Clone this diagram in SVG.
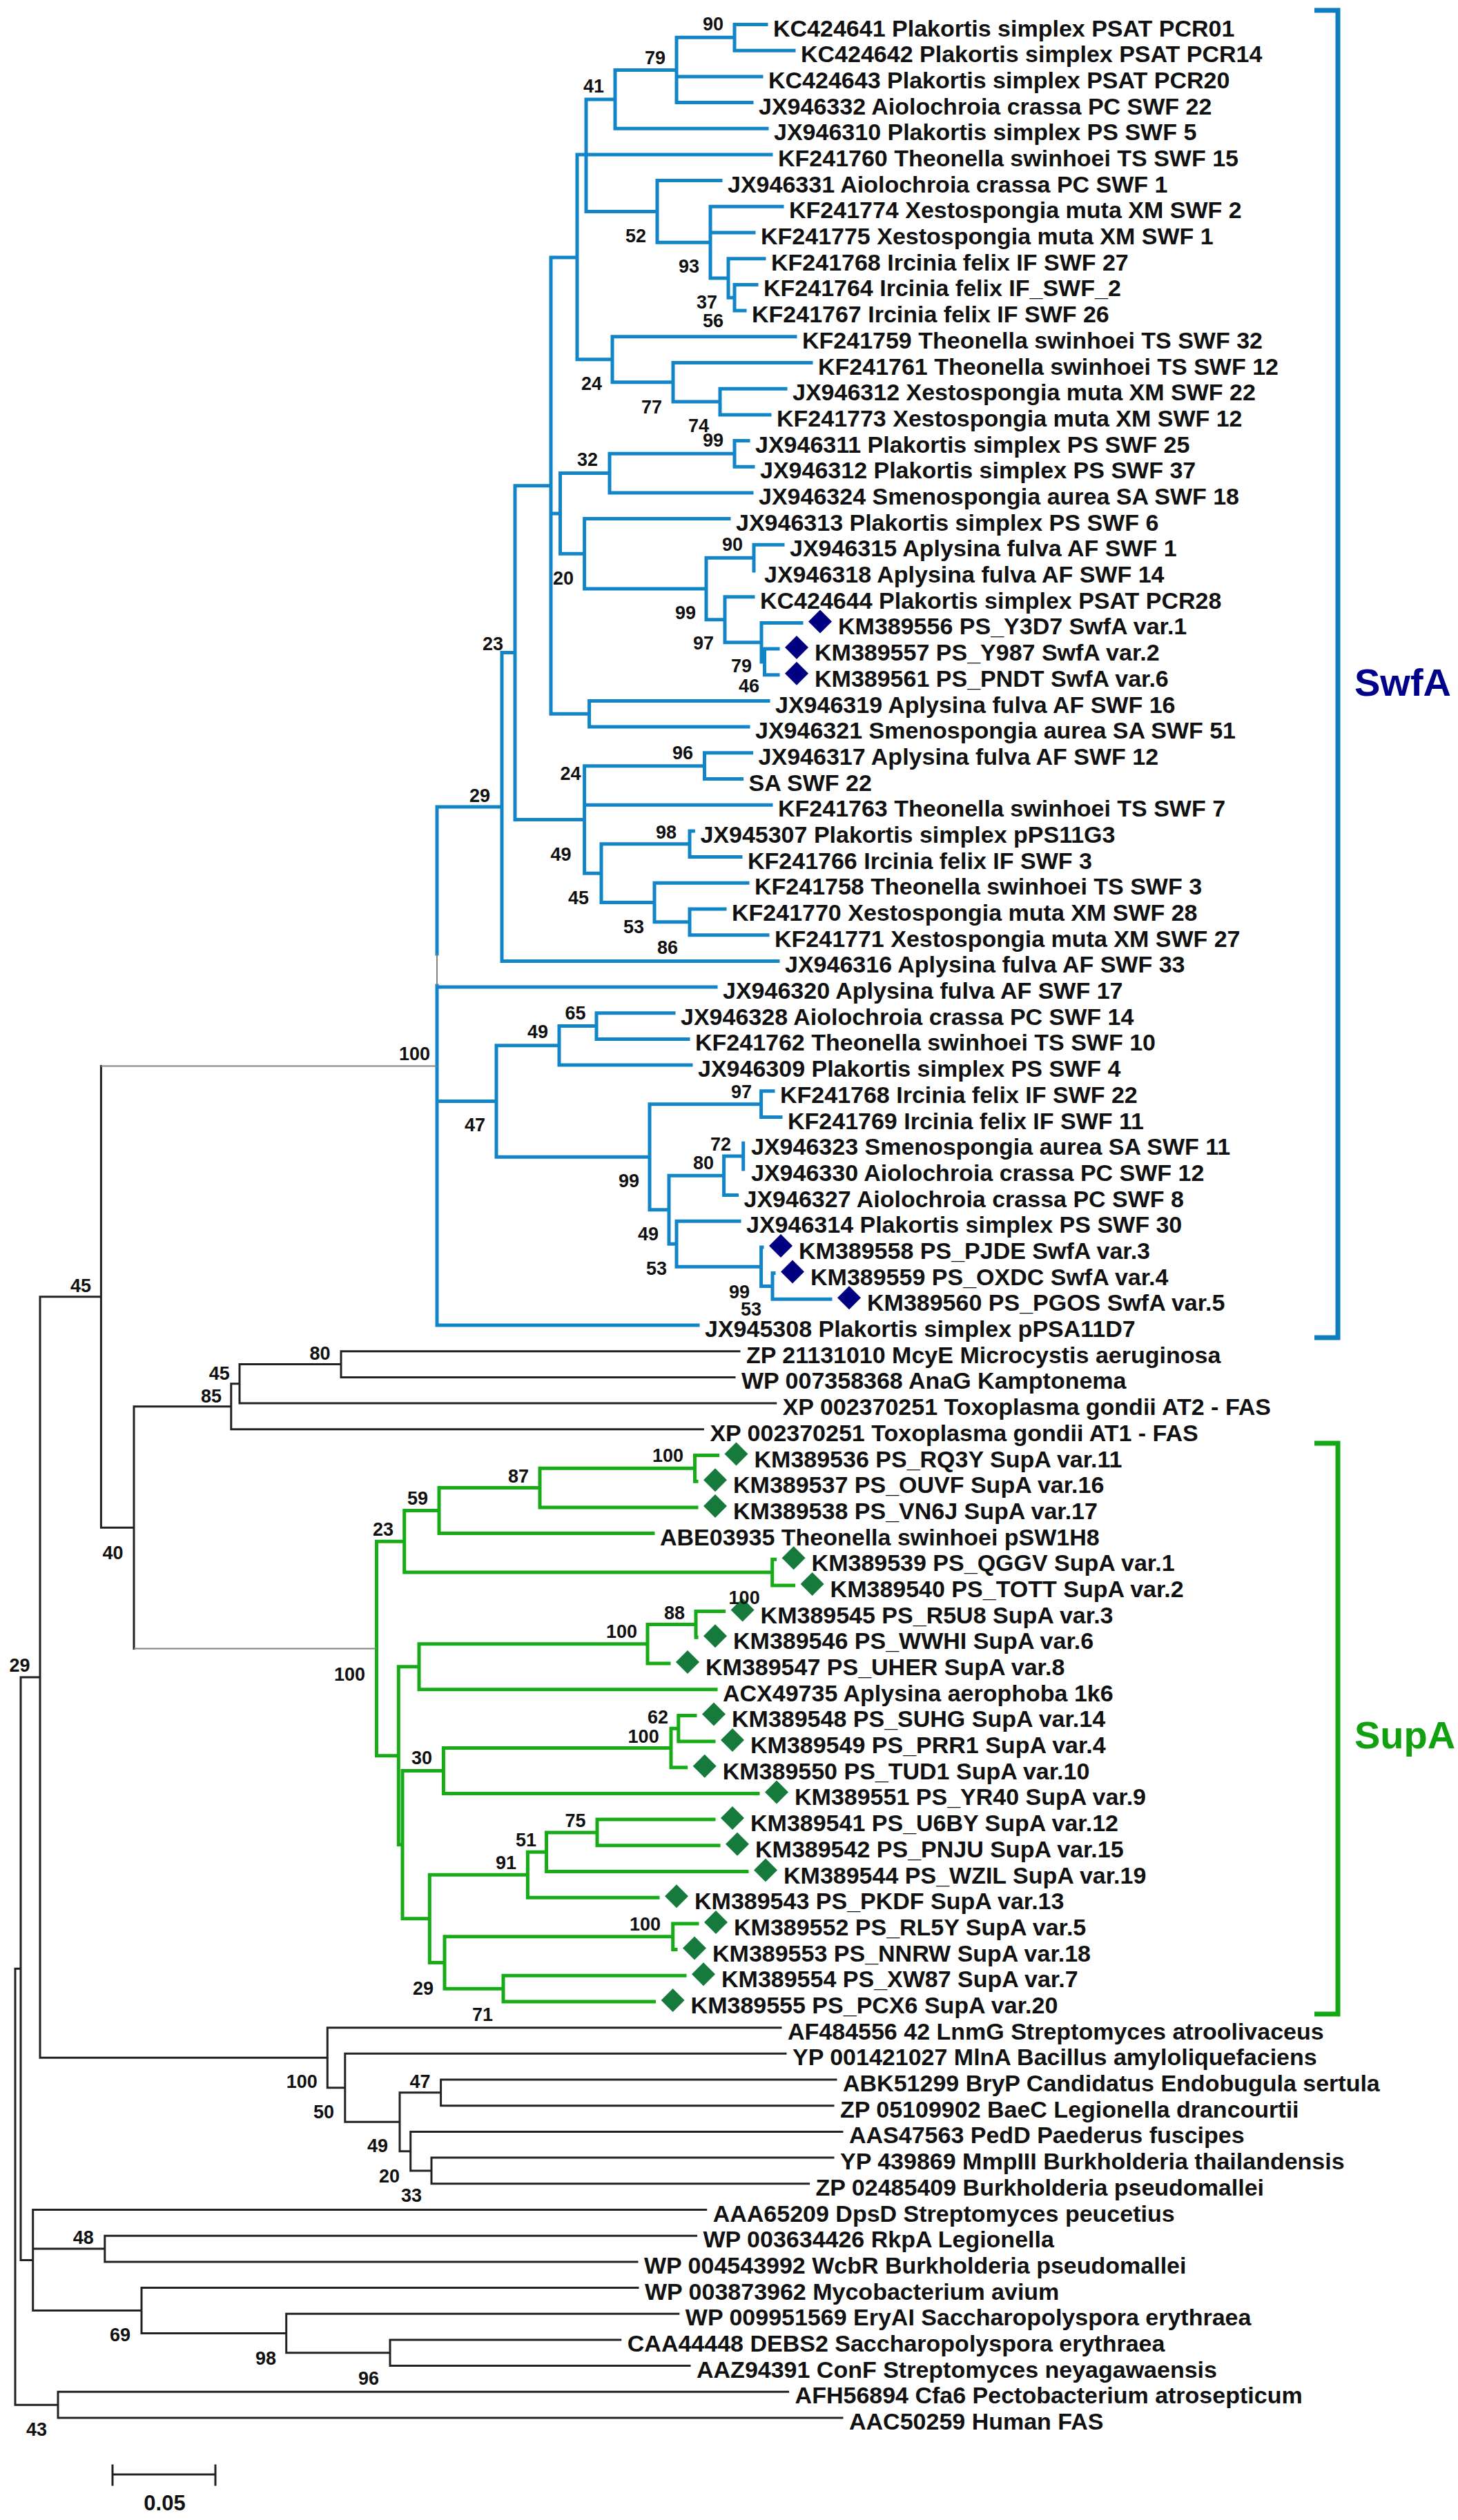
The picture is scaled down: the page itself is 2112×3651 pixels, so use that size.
<svg xmlns="http://www.w3.org/2000/svg" width="2112" height="3651" viewBox="0 0 2112 3651">
<style>
.lf{font-family:"Liberation Sans",Arial,sans-serif;font-weight:bold;font-size:34px;fill:#111}
.bs{font-family:"Liberation Sans",Arial,sans-serif;font-weight:bold;font-size:27px;fill:#111}
.cl{font-family:"Liberation Sans",Arial,sans-serif;font-weight:bold;font-size:56px}
.bl{fill:none;stroke:#1285c8;stroke-width:5;stroke-linecap:square}
.gr{fill:none;stroke:#17ab17;stroke-width:5;stroke-linecap:square}
.bk{fill:none;stroke:#222;stroke-width:3;stroke-linecap:square}
.gy{fill:none;stroke:#808080;stroke-width:2}
.db{fill:#000080}
.dg{fill:#157a3c}
</style>
<defs>
<path id="dm" d="M0,-17L17,0L0,17L-17,0Z"/>
</defs>
<rect width="2112" height="3651" fill="#fff"/>
<g id="connectors">
<path class="bl" d="M633 1169V1382M633 1428V1920M727 945.5V1392.4M746 703.65V1187.4M798 373V1034.3M836 224V520.8M849 143.9V306.4M891 101.5V186.3M980 54.35V148.6M1064 35.5V73.2M952 261.6V351.15M1029 299.3V403M1055 374.7V431.25M1064 412.4V450.1M887 487.8V553.8M975 525.5V582.05M1043 563.2V600.9M811.5 685.6V802.25M883 657.35V713.9M1064 638.5V676.2M846.6 751.6V852.9M1023 808.15V897.7M1092 789.3V827M1050 864.7V930.7M1103 902.4V958.95M1107.5 940.1V977.8M853.6 1015.5V1053.1M846.6 1109.65V1265.2M1020.5 1090.8V1128.5M871 1222.75V1307.6M999 1203.9V1241.6M948 1279.3V1335.85M999 1317V1354.7M719 1514.8V1676.2M810 1486.55V1543.1M864 1467.7V1505.4M941 1599.65V1752.8M1102.6 1580.8V1618.5M969 1703.3V1802.25M1048.6 1675.05V1731.6M1076.7 1656.2V1693.9M980 1769.3V1835.2M1102.6 1806.9V1863.45M1119 1844.6V1882.3
M633 1168.95H727M727 945.5H746M746 703.65H798M798 373H836M836 224H1117M849 143.9H891M891 101.5H980M980 54.35H1064M1064 35.5H1110M1064 73.2H1150M980 110.9H1103M980 148.6H1089M891 186.3H1111M849 306.4H952M952 261.6H1044M952 351.15H1029M1029 299.3H1133M1029 337H1092M1029 403H1055M1055 374.7H1107M1055 431.25H1064M1064 412.4H1096M1064 450.1H1079M836 520.8H887M887 487.8H1152M887 553.8H975M975 525.5H1175M975 582.05H1043M1043 563.2H1138M1043 600.9H1115M798 743.9H811.5M811.5 685.6H883M883 657.35H1064M1064 638.5H1084M1064 676.2H1091M883 713.9H1089M811.5 802.25H846.6M846.6 751.6H1056M846.6 852.9H1023M1023 808.15H1092M1092 789.3H1134M1023 897.7H1050M1050 864.7H1091M1050 930.7H1103M1103 902.4H1161M1103 958.95H1107.5M1107.5 940.1H1127M1107.5 977.8H1127M798 1034.3H853.6M853.6 1015.5H1113M853.6 1053.1H1084M746 1187.4H846.6M846.6 1109.65H1020.5M1020.5 1090.8H1088.6M1020.5 1128.5H1074.6M846.6 1166.2H1117M846.6 1265.2H871M871 1222.75H999M999 1203.9H1004.4M999 1241.6H1073M871 1307.6H948M948 1279.3H1083M948 1335.85H999M999 1317H1050M999 1354.7H1112M727 1392.4H1127M633 1430H1037M633 1595.5H719M719 1514.8H810M810 1486.55H864M864 1467.7H976M864 1505.4H997M810 1543.1H1001M719 1676.2H941M941 1599.65H1102.6M1102.6 1580.8H1120M1102.6 1618.5H1131M941 1752.8H969M969 1703.3H1048.6M1048.6 1675.05H1076.7M1048.6 1731.6H1067.5M969 1802.25H980M980 1769.3H1071M980 1835.2H1102.6M1102.6 1806.9H1104M1102.6 1863.45H1119M1119 1844.6H1121M1119 1882.3H1203M633 1920H1011"/>
<path class="gr" d="M545.5 2233.3V2543.65M585.7 2188.55V2278.05M636 2155.6V2221.5M782 2127.35V2183.9M1006.5 2108.5V2146.2M1118.7 2259.2V2296.9M577.3 2414.7V2672.6M607 2381.7V2447.7M938 2353.45V2410M1008 2334.6V2372.3M583 2565.45V2779.8M642.4 2532.5V2598.4M972 2504.25V2560.8M982.8 2485.4V2523.1M622.3 2716.2V2843.45M764.4 2683.2V2749.2M791.5 2654.95V2711.5M865 2636.1V2673.8M644 2805.75V2881.15M974.7 2786.9V2824.6M729 2862.3V2900
M545.5 2233.3H585.7M545.5 2543.65H577.3M585.7 2188.55H636M585.7 2278.05H1118.7M636 2155.6H782M636 2221.5H946M782 2127.35H1006.5M782 2183.9H1009M1006.5 2108.5H1039.5M1006.5 2146.2H1009M1118.7 2259.2H1122.6M1118.7 2296.9H1149.6M577.3 2414.7H607M577.3 2672.6H583M607 2381.7H938M607 2447.7H1037M938 2353.45H1008M938 2410H969M1008 2334.6H1048.6M1008 2372.3H1009M583 2565.45H642.4M583 2779.8H622.3M642.4 2532.5H972M642.4 2598.4H1098M972 2504.25H982.8M972 2560.8H993.7M982.8 2485.4H1007M982.8 2523.1H1034M622.3 2716.2H764.4M622.3 2843.45H644M764.4 2683.2H791.5M764.4 2749.2H953M791.5 2654.95H865M791.5 2711.5H1082M865 2636.1H1034M865 2673.8H1041M644 2805.75H974.7M644 2881.15H729M974.7 2786.9H1010M974.7 2824.6H979M729 2862.3H992M729 2900H947.6"/>
<path class="bk" d="M22 2852.25V3484.15M22 2852.25H30M22 3484.15H84M30 2430V3274.5M30 2430H58M30 3274.5H47.7M58 1878.8V2981.25M58 1878.8H146.4M58 2981.25H474.3M146.4 1544.5V2213.15M146.4 2213.15H194M194 2037.8V2388.5M194 2037.8H334.8M334.8 2004.8V2070.8M334.8 2004.8H347M334.8 2070.8H1018.4M347 1976.55V2033.1M347 1976.55H494M347 2033.1H1123.7M494 1957.7V1995.4M494 1957.7H1071M494 1995.4H1064M474.3 2937.7V3024.8M474.3 2937.7H1131M474.3 3024.8H499.8M499.8 2975.3V3074.3M499.8 2975.3H1138M499.8 3074.3H579M579 3031.85V3116.7M579 3031.85H638.6M579 3116.7H594.7M638.6 3013V3050.7M638.6 3013H1211M638.6 3050.7H1207M594.7 3088.4V3144.95M594.7 3088.4H1220M594.7 3144.95H625M625 3126.1V3163.8M625 3126.1H1207M625 3163.8H1171.6M47.7 3201.5V3347.55M47.7 3201.5H1022.7M47.7 3258.05H151.8M47.7 3347.55H205M151.8 3239.2V3276.9M151.8 3239.2H1008.5M151.8 3276.9H923M205 3314.6V3380.5M205 3314.6H924M205 3380.5H414.7M414.7 3352.2V3408.75M414.7 3352.2H982.8M414.7 3408.75H565M565 3389.9V3427.6M565 3389.9H898.8M565 3427.6H999M84 3465.3V3503M84 3465.3H1141.6M84 3503H1220"/>
<path class="gy" d="M146.4 1544.5H633M194 2388.5H545.5M633 1382V1428"/>
</g>
<g id="brackets">
<path d="M1904 15H1938V1938H1904" fill="none" stroke="#0b7dc0" stroke-width="7"/>
<path d="M1904 2091H1938V2918H1904" fill="none" stroke="#14a814" stroke-width="7"/>
<text id="label-SwfA" class="cl" x="1962" y="1008" fill="#00008b">SwfA</text>
<text id="label-SupA" class="cl" x="1962" y="2533" fill="#10a010">SupA</text>
</g>
<g id="leaves">
<g id="leaf1"><text class="lf" x="1120" y="52.5">KC424641 Plakortis simplex PSAT PCR01</text></g>
<g id="leaf2"><text class="lf" x="1160" y="90.2">KC424642 Plakortis simplex PSAT PCR14</text></g>
<g id="leaf3"><text class="lf" x="1113" y="127.9">KC424643 Plakortis simplex PSAT PCR20</text></g>
<g id="leaf4"><text class="lf" x="1099" y="165.6">JX946332 Aiolochroia crassa PC SWF 22</text></g>
<g id="leaf5"><text class="lf" x="1121" y="203.3">JX946310 Plakortis simplex PS SWF 5</text></g>
<g id="leaf6"><text class="lf" x="1127" y="241">KF241760 Theonella swinhoei TS SWF 15</text></g>
<g id="leaf7"><text class="lf" x="1054" y="278.6">JX946331 Aiolochroia crassa PC SWF 1</text></g>
<g id="leaf8"><text class="lf" x="1143" y="316.3">KF241774 Xestospongia muta XM SWF 2</text></g>
<g id="leaf9"><text class="lf" x="1102" y="354">KF241775 Xestospongia muta XM SWF 1</text></g>
<g id="leaf10"><text class="lf" x="1117" y="391.7">KF241768 Ircinia felix IF SWF 27</text></g>
<g id="leaf11"><text class="lf" x="1106" y="429.4">KF241764 Ircinia felix IF_SWF_2</text></g>
<g id="leaf12"><text class="lf" x="1089" y="467.1">KF241767 Ircinia felix IF SWF 26</text></g>
<g id="leaf13"><text class="lf" x="1162" y="504.8">KF241759 Theonella swinhoei TS SWF 32</text></g>
<g id="leaf14"><text class="lf" x="1185" y="542.5">KF241761 Theonella swinhoei TS SWF 12</text></g>
<g id="leaf15"><text class="lf" x="1148" y="580.2">JX946312 Xestospongia muta XM SWF 22</text></g>
<g id="leaf16"><text class="lf" x="1125" y="617.9">KF241773 Xestospongia muta XM SWF 12</text></g>
<g id="leaf17"><text class="lf" x="1094" y="655.5">JX946311 Plakortis simplex PS SWF 25</text></g>
<g id="leaf18"><text class="lf" x="1101" y="693.2">JX946312 Plakortis simplex PS SWF 37</text></g>
<g id="leaf19"><text class="lf" x="1099" y="730.9">JX946324 Smenospongia aurea SA SWF 18</text></g>
<g id="leaf20"><text class="lf" x="1066" y="768.6">JX946313 Plakortis simplex PS SWF 6</text></g>
<g id="leaf21"><text class="lf" x="1144" y="806.3">JX946315 Aplysina fulva AF SWF 1</text></g>
<g id="leaf22"><text class="lf" x="1107" y="844">JX946318 Aplysina fulva AF SWF 14</text></g>
<g id="leaf23"><text class="lf" x="1101" y="881.7">KC424644 Plakortis simplex PSAT PCR28</text></g>
<g id="leaf24"><use href="#dm" class="db" x="1188" y="900.4"/><text class="lf" x="1214" y="919.4">KM389556 PS_Y3D7 SwfA var.1</text></g>
<g id="leaf25"><use href="#dm" class="db" x="1154" y="938.1"/><text class="lf" x="1180" y="957.1">KM389557 PS_Y987 SwfA var.2</text></g>
<g id="leaf26"><use href="#dm" class="db" x="1154" y="975.8"/><text class="lf" x="1180" y="994.8">KM389561 PS_PNDT SwfA var.6</text></g>
<g id="leaf27"><text class="lf" x="1123" y="1032.5">JX946319 Aplysina fulva AF SWF 16</text></g>
<g id="leaf28"><text class="lf" x="1094" y="1070.1">JX946321 Smenospongia aurea SA SWF 51</text></g>
<g id="leaf29"><text class="lf" x="1098.6" y="1107.8">JX946317 Aplysina fulva AF SWF 12</text></g>
<g id="leaf30"><text class="lf" x="1084.6" y="1145.5">SA SWF 22</text></g>
<g id="leaf31"><text class="lf" x="1127" y="1183.2">KF241763 Theonella swinhoei TS SWF 7</text></g>
<g id="leaf32"><text class="lf" x="1014.4" y="1220.9">JX945307 Plakortis simplex pPS11G3</text></g>
<g id="leaf33"><text class="lf" x="1083" y="1258.6">KF241766 Ircinia felix IF SWF 3</text></g>
<g id="leaf34"><text class="lf" x="1093" y="1296.3">KF241758 Theonella swinhoei TS SWF 3</text></g>
<g id="leaf35"><text class="lf" x="1060" y="1334">KF241770 Xestospongia muta XM SWF 28</text></g>
<g id="leaf36"><text class="lf" x="1122" y="1371.7">KF241771 Xestospongia muta XM SWF 27</text></g>
<g id="leaf37"><text class="lf" x="1137" y="1409.4">JX946316 Aplysina fulva AF SWF 33</text></g>
<g id="leaf38"><text class="lf" x="1047" y="1447">JX946320 Aplysina fulva AF SWF 17</text></g>
<g id="leaf39"><text class="lf" x="986" y="1484.7">JX946328 Aiolochroia crassa PC SWF 14</text></g>
<g id="leaf40"><text class="lf" x="1007" y="1522.4">KF241762 Theonella swinhoei TS SWF 10</text></g>
<g id="leaf41"><text class="lf" x="1011" y="1560.1">JX946309 Plakortis simplex PS SWF 4</text></g>
<g id="leaf42"><text class="lf" x="1130" y="1597.8">KF241768 Ircinia felix IF SWF 22</text></g>
<g id="leaf43"><text class="lf" x="1141" y="1635.5">KF241769 Ircinia felix IF SWF 11</text></g>
<g id="leaf44"><text class="lf" x="1088" y="1673.2">JX946323 Smenospongia aurea SA SWF 11</text></g>
<g id="leaf45"><text class="lf" x="1088" y="1710.9">JX946330 Aiolochroia crassa PC SWF 12</text></g>
<g id="leaf46"><text class="lf" x="1077.5" y="1748.6">JX946327 Aiolochroia crassa PC SWF 8</text></g>
<g id="leaf47"><text class="lf" x="1081" y="1786.3">JX946314 Plakortis simplex PS SWF 30</text></g>
<g id="leaf48"><use href="#dm" class="db" x="1131" y="1804.9"/><text class="lf" x="1157" y="1823.9">KM389558 PS_PJDE SwfA var.3</text></g>
<g id="leaf49"><use href="#dm" class="db" x="1148" y="1842.6"/><text class="lf" x="1174" y="1861.6">KM389559 PS_OXDC SwfA var.4</text></g>
<g id="leaf50"><use href="#dm" class="db" x="1230" y="1880.3"/><text class="lf" x="1256" y="1899.3">KM389560 PS_PGOS SwfA var.5</text></g>
<g id="leaf51"><text class="lf" x="1021" y="1937">JX945308 Plakortis simplex pPSA11D7</text></g>
<g id="leaf52"><text class="lf" x="1081" y="1974.7">ZP 21131010 McyE Microcystis aeruginosa</text></g>
<g id="leaf53"><text class="lf" x="1074" y="2012.4">WP 007358368 AnaG Kamptonema</text></g>
<g id="leaf54"><text class="lf" x="1133.7" y="2050.1">XP 002370251 Toxoplasma gondii AT2 - FAS</text></g>
<g id="leaf55"><text class="lf" x="1028.4" y="2087.8">XP 002370251 Toxoplasma gondii AT1 - FAS</text></g>
<g id="leaf56"><use href="#dm" class="dg" x="1066.5" y="2106.5"/><text class="lf" x="1092.5" y="2125.5">KM389536 PS_RQ3Y SupA var.11</text></g>
<g id="leaf57"><use href="#dm" class="dg" x="1036" y="2144.2"/><text class="lf" x="1062" y="2163.2">KM389537 PS_OUVF SupA var.16</text></g>
<g id="leaf58"><use href="#dm" class="dg" x="1036" y="2181.9"/><text class="lf" x="1062" y="2200.9">KM389538 PS_VN6J SupA var.17</text></g>
<g id="leaf59"><text class="lf" x="956" y="2238.5">ABE03935 Theonella swinhoei pSW1H8</text></g>
<g id="leaf60"><use href="#dm" class="dg" x="1149.6" y="2257.2"/><text class="lf" x="1175.6" y="2276.2">KM389539 PS_QGGV SupA var.1</text></g>
<g id="leaf61"><use href="#dm" class="dg" x="1176.6" y="2294.9"/><text class="lf" x="1202.6" y="2313.9">KM389540 PS_TOTT SupA var.2</text></g>
<g id="leaf62"><use href="#dm" class="dg" x="1075.6" y="2332.6"/><text class="lf" x="1101.6" y="2351.6">KM389545 PS_R5U8 SupA var.3</text></g>
<g id="leaf63"><use href="#dm" class="dg" x="1036" y="2370.3"/><text class="lf" x="1062" y="2389.3">KM389546 PS_WWHI SupA var.6</text></g>
<g id="leaf64"><use href="#dm" class="dg" x="996" y="2408"/><text class="lf" x="1022" y="2427">KM389547 PS_UHER SupA var.8</text></g>
<g id="leaf65"><text class="lf" x="1047" y="2464.7">ACX49735 Aplysina aerophoba 1k6</text></g>
<g id="leaf66"><use href="#dm" class="dg" x="1034" y="2483.4"/><text class="lf" x="1060" y="2502.4">KM389548 PS_SUHG SupA var.14</text></g>
<g id="leaf67"><use href="#dm" class="dg" x="1061" y="2521.1"/><text class="lf" x="1087" y="2540.1">KM389549 PS_PRR1 SupA var.4</text></g>
<g id="leaf68"><use href="#dm" class="dg" x="1020.7" y="2558.8"/><text class="lf" x="1046.7" y="2577.8">KM389550 PS_TUD1 SupA var.10</text></g>
<g id="leaf69"><use href="#dm" class="dg" x="1125" y="2596.4"/><text class="lf" x="1151" y="2615.4">KM389551 PS_YR40 SupA var.9</text></g>
<g id="leaf70"><use href="#dm" class="dg" x="1061" y="2634.1"/><text class="lf" x="1087" y="2653.1">KM389541 PS_U6BY SupA var.12</text></g>
<g id="leaf71"><use href="#dm" class="dg" x="1068" y="2671.8"/><text class="lf" x="1094" y="2690.8">KM389542 PS_PNJU SupA var.15</text></g>
<g id="leaf72"><use href="#dm" class="dg" x="1109" y="2709.5"/><text class="lf" x="1135" y="2728.5">KM389544 PS_WZIL SupA var.19</text></g>
<g id="leaf73"><use href="#dm" class="dg" x="980" y="2747.2"/><text class="lf" x="1006" y="2766.2">KM389543 PS_PKDF SupA var.13</text></g>
<g id="leaf74"><use href="#dm" class="dg" x="1037" y="2784.9"/><text class="lf" x="1063" y="2803.9">KM389552 PS_RL5Y SupA var.5</text></g>
<g id="leaf75"><use href="#dm" class="dg" x="1006" y="2822.6"/><text class="lf" x="1032" y="2841.6">KM389553 PS_NNRW SupA var.18</text></g>
<g id="leaf76"><use href="#dm" class="dg" x="1019" y="2860.3"/><text class="lf" x="1045" y="2879.3">KM389554 PS_XW87 SupA var.7</text></g>
<g id="leaf77"><use href="#dm" class="dg" x="974.6" y="2898"/><text class="lf" x="1000.6" y="2917">KM389555 PS_PCX6 SupA var.20</text></g>
<g id="leaf78"><text class="lf" x="1141" y="2954.7">AF484556 42 LnmG Streptomyces atroolivaceus</text></g>
<g id="leaf79"><text class="lf" x="1148" y="2992.3">YP 001421027 MlnA Bacillus amyloliquefaciens</text></g>
<g id="leaf80"><text class="lf" x="1221" y="3030">ABK51299 BryP Candidatus Endobugula sertula</text></g>
<g id="leaf81"><text class="lf" x="1217" y="3067.7">ZP 05109902 BaeC Legionella drancourtii</text></g>
<g id="leaf82"><text class="lf" x="1230" y="3105.4">AAS47563 PedD Paederus fuscipes</text></g>
<g id="leaf83"><text class="lf" x="1217" y="3143.1">YP 439869 MmpIII Burkholderia thailandensis</text></g>
<g id="leaf84"><text class="lf" x="1181.6" y="3180.8">ZP 02485409 Burkholderia pseudomallei</text></g>
<g id="leaf85"><text class="lf" x="1032.7" y="3218.5">AAA65209 DpsD Streptomyces peucetius</text></g>
<g id="leaf86"><text class="lf" x="1018.5" y="3256.2">WP 003634426 RkpA Legionella</text></g>
<g id="leaf87"><text class="lf" x="933" y="3293.9">WP 004543992 WcbR Burkholderia pseudomallei</text></g>
<g id="leaf88"><text class="lf" x="934" y="3331.6">WP 003873962 Mycobacterium avium</text></g>
<g id="leaf89"><text class="lf" x="992.8" y="3369.2">WP 009951569 EryAI Saccharopolyspora erythraea</text></g>
<g id="leaf90"><text class="lf" x="908.8" y="3406.9">CAA44448 DEBS2 Saccharopolyspora erythraea</text></g>
<g id="leaf91"><text class="lf" x="1009" y="3444.6">AAZ94391 ConF Streptomyces neyagawaensis</text></g>
<g id="leaf92"><text class="lf" x="1151.6" y="3482.3">AFH56894 Cfa6 Pectobacterium atrosepticum</text></g>
<g id="leaf93"><text class="lf" x="1230" y="3520">AAC50259 Human FAS</text></g>
</g>
<g id="bootstrap" class="bs">
<text x="1018" y="43.5">90</text><text x="934" y="93">79</text><text x="845" y="134">41</text><text x="906" y="351">52</text><text x="983" y="395">93</text><text x="1009" y="447">37</text><text x="1018" y="474">56</text><text x="842" y="565">24</text><text x="929" y="599">77</text><text x="997" y="626">74</text><text x="1018" y="647">99</text><text x="836" y="675">32</text><text x="1046" y="798">90</text><text x="801" y="847">20</text><text x="978" y="897">99</text><text x="1004" y="941">97</text><text x="1059" y="974">79</text><text x="1070" y="1003">46</text><text x="699" y="942">23</text><text x="974" y="1100">96</text><text x="811.5" y="1130">24</text><text x="680" y="1162">29</text><text x="950" y="1215">98</text><text x="797.5" y="1247">49</text><text x="823" y="1310">45</text><text x="903" y="1352">53</text><text x="952" y="1382">86</text><text x="818.5" y="1477">65</text><text x="764" y="1504">49</text><text x="578" y="1536">100</text><text x="1059" y="1591">97</text><text x="673" y="1639">47</text><text x="1029" y="1667">72</text><text x="1004" y="1694">80</text><text x="896" y="1720">99</text><text x="924" y="1797">49</text><text x="936" y="1847">53</text><text x="1056" y="1881">99</text><text x="1073" y="1906">53</text>
<text x="102" y="1872">45</text><text x="448.6" y="1970">80</text><text x="302.7" y="1998.5">45</text><text x="291" y="2032">85</text><text x="148.6" y="2259">40</text>
<text x="945" y="2118">100</text><text x="736" y="2148">87</text><text x="590" y="2180">59</text><text x="540" y="2225">23</text><text x="962" y="2346">88</text><text x="1055.6" y="2324">100</text><text x="878" y="2373">100</text><text x="484" y="2435">100</text><text x="938" y="2497">62</text><text x="909.6" y="2524.5">100</text><text x="596" y="2556">30</text><text x="818.6" y="2647">75</text><text x="747" y="2675">51</text><text x="718" y="2708">91</text><text x="912" y="2797">100</text><text x="598" y="2890">29</text><text x="684" y="2928">71</text>
<text x="13.5" y="2422">29</text><text x="414.7" y="3025">100</text><text x="593.6" y="3025">47</text><text x="454" y="3068.5">50</text><text x="532" y="3118">49</text><text x="549" y="3162">20</text><text x="581" y="3190">33</text><text x="105.7" y="3251">48</text><text x="159" y="3392">69</text><text x="370" y="3425.6">98</text><text x="519" y="3455">96</text><text x="38" y="3529">43</text>
</g>
<g id="scalebar">
<path class="bk" d="M163 3585H312M163 3572V3600M312 3572V3600"/>
<text class="lf" x="238.5" y="3637" text-anchor="middle" style="font-size:31px">0.05</text>
</g>
</svg>
